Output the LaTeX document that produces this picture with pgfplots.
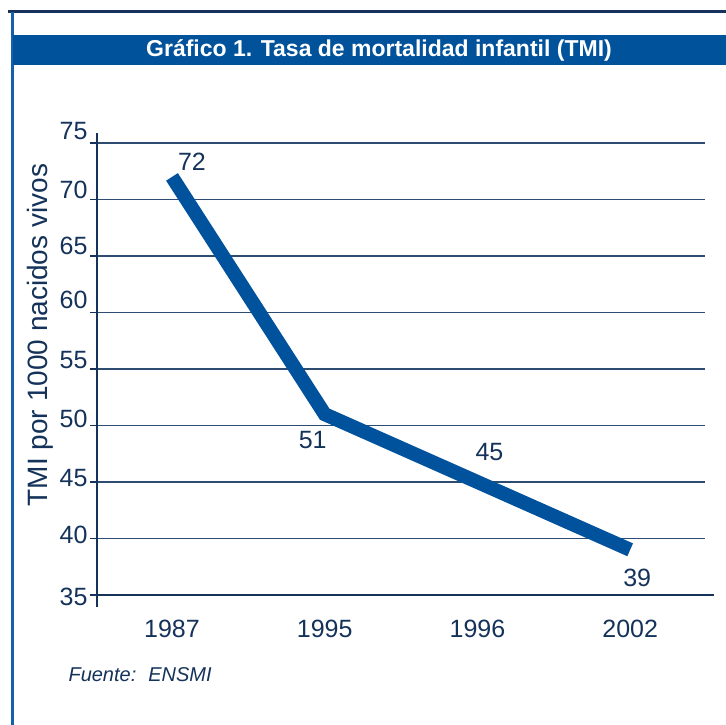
\documentclass[border=0pt]{standalone}
\usepackage{fontspec}
\setmainfont{Liberation Sans}
\usepackage{pgfplots}
\pgfplotsset{compat=1.18}
\definecolor{bandblue}{HTML}{00529B}
\definecolor{leftblue}{HTML}{1560A8}
\definecolor{linblue}{HTML}{00529C}
\definecolor{navy}{HTML}{15335A}
\definecolor{gridc}{HTML}{2E4C72}
\begin{document}
\begin{tikzpicture}[x=1pt,y=1pt]
\path[use as bounding box] (0,0) rectangle (726,-725);
\fill[white] (0,0) rectangle (726,-725);
% frame
\fill[navy] (8,-10) rectangle (726,-13);
\fill[leftblue] (10.5,-12) rectangle (13.5,-725);
\fill[bandblue] (13,-35) rectangle (726,-65);
\node[text=white, font=\bfseries\fontsize{23}{26}\selectfont] at (379,-50) {Gráfico 1. Tasa de mortalidad infantil (TMI)};

\begin{axis}[
    at={(97pt,-595pt)}, anchor=south west,
    scale only axis, width=608pt, height=452pt,
    xmin=-0.491, xmax=3.49, ymin=35, ymax=75,
    ytick={35,40,...,75},
    yticklabels={\raisebox{-10.5pt}{35}, \raisebox{-4.5pt}{40}, \raisebox{-4.5pt}{45},
        \raisebox{-1.5pt}{50}, \raisebox{1pt}{55}, \raisebox{4pt}{60},
        \raisebox{2pt}{65}, \raisebox{1pt}{70}, \raisebox{4pt}{75}},
    xtick={0,1,2,3},
    xticklabels={1987,1995,1996,2002},
    axis lines=left,
    axis line style={-, navy, line width=2.2pt},
    x axis line style={shorten <=-5pt, shorten >=-9pt},
    y axis line style={shorten <=-12pt, shorten >=-10pt},
    ymajorgrids,
    grid style={gridc, line width=1.1pt},
    tick style={navy, line width=1.5pt},
    major tick length=7pt,
    tick align=outside,
    xtick style={draw=none},
    /pgf/number format/assume math mode=true,
    ticklabel style={text=navy, font=\fontsize{25}{28}\selectfont},
    yticklabel style={anchor=base east, xshift=1pt},
    xticklabel style={yshift=-15pt},
    clip=false,
]
\addplot[linblue, line width=14pt, line cap=butt, line join=miter] coordinates {
    (0,72) (1,51) (2,45) (3,39)
};
\node[text=navy, font=\fontsize{25}{28}\selectfont, xshift=20pt, yshift=15pt] at (axis cs:0,72) {72};
\node[text=navy, font=\fontsize{25}{28}\selectfont, xshift=-12pt, yshift=-26pt] at (axis cs:1,51) {51};
\node[text=navy, font=\fontsize{25}{28}\selectfont, xshift=12pt, yshift=30pt] at (axis cs:2,45) {45};
\node[text=navy, font=\fontsize{25}{28}\selectfont, xshift=7pt, yshift=-28pt] at (axis cs:3,39) {39};
\end{axis}

\node[rotate=90, text=navy, font=\fontsize{28}{30}\selectfont] at (40,-335) {TMI por 1000 nacidos vivos};
\node[text=navy, font=\itshape\fontsize{20}{22}\selectfont, anchor=west] at (65,-675) {Fuente:\hspace{0.6em}ENSMI};
\end{tikzpicture}
\end{document}
